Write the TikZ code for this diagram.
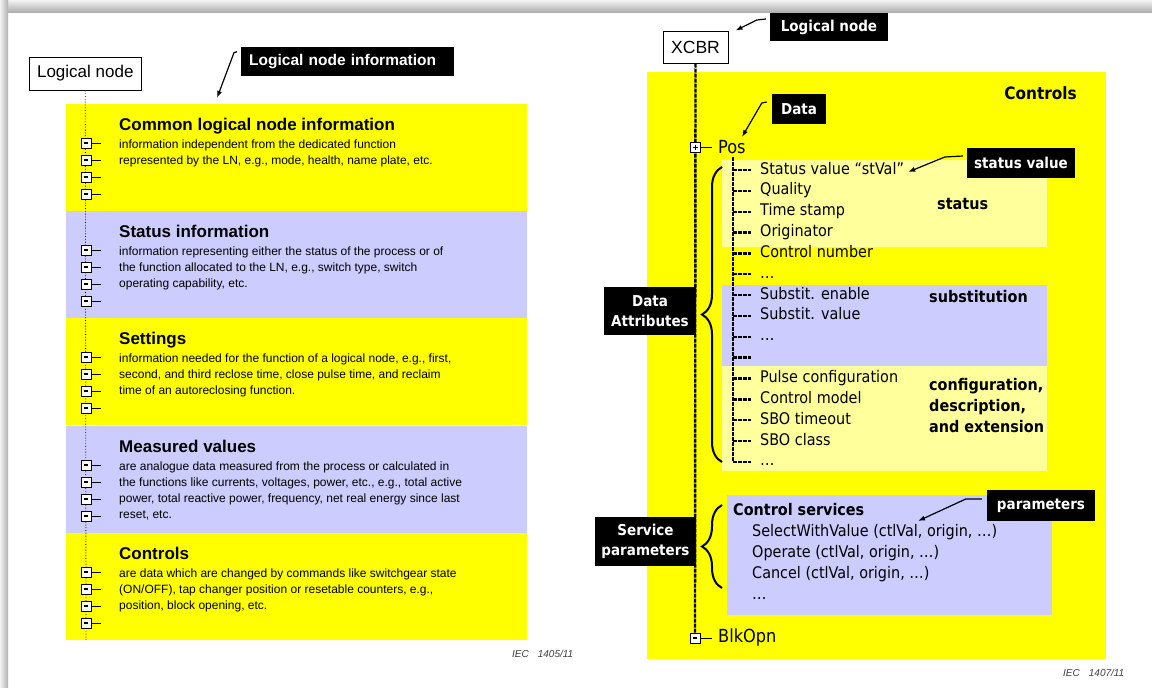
\documentclass[tikz,border=0pt]{standalone}
\usepackage{fontspec}
\setmainfont{Liberation Sans}
\newfontfamily\tahoma{DejaVu Sans Condensed}
\usetikzlibrary{positioning,calc,arrows.meta,decorations.pathreplacing}
\definecolor{ylw}{HTML}{FFFF00}
\definecolor{lav}{HTML}{CCCCFF}
\definecolor{paleylw}{HTML}{FFFF9C}
\definecolor{shadow}{HTML}{B0B0B0}

\begin{document}
\begin{tikzpicture}[x=1pt, y=-1pt,
  band/.style={anchor=north west, inner sep=0pt, minimum width=461pt, minimum height=107pt},
  head/.style={anchor=base west, inner sep=0pt, font=\fontsize{17}{20}\selectfont\bfseries},
  desc/.style={anchor=north west, inner sep=0pt, align=left, font=\fontsize{12}{16}\selectfont},
  lnbox/.style={draw, line width=1pt, fill=white, inner xsep=8pt, minimum height=33pt},
  tag/.style={fill=black, text=white, inner sep=0pt, align=center,
    font=\tahoma\bfseries\fontsize{15}{20}\selectfont},
  minusbox/.style={draw, fill=white, inner sep=0pt, minimum size=10pt, line width=0.7pt,
    path picture={\draw[line width=1.5pt] ($(path picture bounding box.center)+(-2.4,0)$)
      -- ($(path picture bounding box.center)+(2.4,0)$);}},
  plusbox/.style={minusbox, path picture={\draw[line width=1pt]
      ($(path picture bounding box.center)+(-2.5,0)$) -- ($(path picture bounding box.center)+(2.5,0)$)
      ($(path picture bounding box.center)+(0,-2.5)$) -- ($(path picture bounding box.center)+(0,2.5)$);}},
  tree/.style={line width=2.4pt, dash pattern=on 4pt off 1pt},
  item/.style={anchor=west, inner xsep=9pt, inner ysep=0pt, text height=11.5pt, text depth=3.5pt,
    font=\tahoma\fontsize{16}{20}\selectfont},
  kind/.style={anchor=base west, inner sep=0pt, align=left, font=\tahoma\bfseries\fontsize{16}{21}\selectfont},
  pointer/.style={line width=1.2pt, -{Latex[length=7pt, width=5pt]}},
  brc/.style={decorate, decoration={brace, amplitude=20pt, aspect=0.5}, line width=2pt},
  iec/.style={anchor=west, inner sep=0pt, text=black!75, font=\itshape\fontsize{10}{12}\selectfont}
  ]
  \useasboundingbox (0,0) rectangle (1152,688);
  \fill[white] (0,0) rectangle (1152,688);
  \shade[top color=gray!10, bottom color=shadow] (0,0) rectangle (1152,12);
  \shade[left color=gray!10, right color=shadow] (0,0) rectangle (8,688);

  % left: logical node information
  \foreach \n/\yy/\col in {1/104/ylw, 2/211/lav, 3/318/ylw, 4/426/lav, 5/533/ylw}
    \node[band, fill=\col] (band\n) at (66,\yy) {};
  \foreach \n/\hd/\txt in {
    1/Common logical node information/{information independent from the dedicated function\\represented by the LN, e.g., mode, health, name plate, etc.},
    2/Status information/{information representing either the status of the process or of\\the function allocated to the LN, e.g., switch type, switch\\operating capability, etc.},
    3/Settings/{information needed for the function of a logical node, e.g., first,\\second, and third reclose time, close pulse time, and reclaim\\time of an autoreclosing function.},
    4/Measured values/{are analogue data measured from the process or calculated in\\the functions like currents, voltages, power, etc., e.g., total active\\power, total reactive power, frequency, net real energy since last\\reset, etc.},
    5/Controls/{are data which are changed by commands like switchgear state\\(ON/OFF), tap changer position or resetable counters, e.g.,\\position, block opening, etc.}}
  {
    \node[head] (head\n) at ($(band\n.north west)+(53,26)$) {\hd};
    \node[desc] (desc\n) at ($(band\n.north west)+(53,35.5)$) {\txt};
  }
  \node[lnbox, font=\fontsize{17}{20}\selectfont] (ln) at (85.3,73.5) {Logical node};
  \coordinate (lnend) at (86,641);
  \draw[dotted, line width=0.8pt] (ln.south) -- (lnend);
  \foreach \n/\yy in {1/104, 2/211, 3/318, 4/426, 5/533}
    \foreach \k in {0,...,3} {
      \node[minusbox] (mb\n\k) at (86,\yy+39+17*\k) {};
      \draw[line width=0.8pt] (mb\n\k.east) -- ++(10,0) coordinate (mt\n\k);
    }
  \node[tag, anchor=north west, minimum height=29pt, text width=197pt, inner xsep=8pt, align=left,
    font=\bfseries\fontsize{15.5}{19}\selectfont] (infotag) at (241,47) {Logical node information};
  \coordinate (infotip) at (217,98);
  \draw[pointer] ($(infotag.west)+(-4,-10)$) -- ++(-3,1) -- (infotip);
  \node[iec] (iecl) at (512,654) {IEC\hspace{9pt}1405/11};

  % right: XCBR controls
  \node[fill=ylw, anchor=north west, inner sep=0pt, minimum width=459pt, minimum height=587pt] (ctlarea) at (647,72) {};
  \fill[paleylw] (722,160) rectangle (1047,247);
  \fill[lav] (722,285) rectangle (1047,366);
  \fill[paleylw] (722,366) rectangle (1047,471);
  \fill[lav] (727,495) rectangle (1052,615);
  \node[anchor=east, inner sep=0pt, font=\tahoma\bfseries\fontsize{17}{22}\selectfont] (ctltitle) at (1077,93) {Controls};

  \node[lnbox, font=\fontsize{17.6}{20}\selectfont, minimum width=65pt, minimum height=32pt, inner xsep=0pt] (xcbr) at (695.5,47) {XCBR};
  \node[minusbox] (blkbox) at (695,638) {};
  \draw[tree] (xcbr.south) -- (blkbox.north);
  \node[plusbox] (posbox) at (695,147) {};
  \node[anchor=west, inner xsep=6pt, font=\tahoma\fontsize{18}{22}\selectfont] (pos) at (712,147) {Pos};
  \draw[line width=0.8pt] (posbox.east) -- (pos.west);
  \node[anchor=west, inner xsep=6pt, font=\tahoma\fontsize{18}{22}\selectfont] (blk) at (712,638) {BlkOpn};
  \draw[line width=0.8pt] (blkbox.east) -- (blk.west);

  \foreach \k/\lbl in {0/Status value “stVal”, 1/Quality, 2/Time stamp, 3/Originator, 4/Control number,
    5/…, 6/Substit. enable, 7/Substit. value, 8/…, 9/{}, 10/Pulse configuration, 11/Control model,
    12/SBO timeout, 13/SBO class, 14/…}
  {
    \coordinate (stem\k) at (733,170+20.85*\k);
    \node[item] (item\k) at (751,170+20.85*\k) {\lbl};
    \draw[tree] (stem\k) -- (item\k.west);
  }
  \draw[tree] (stem0 |- pos.south) -- (stem14);

  \node[kind] (stlbl) at (937,209.5) {status};
  \node[kind] (sublbl) at (929,302.5) {substitution};
  \node[kind, anchor=north west] (cfglbl) at (929,378) {configuration,\\description,\\and extension};

  \node[kind] (svchead) at (733,515.5) {Control services};
  \node[kind, anchor=north west, font=\tahoma\fontsize{16}{21}\selectfont] (svclist) at (752,524)
    {SelectWithValue (ctlVal, origin, …)\\Operate (ctlVal, origin, …)\\Cancel (ctlVal, origin, …)\\…};

  \coordinate (dabot) at (722,462);
  \coordinate (datop) at (722,167);
  \draw[brc] (dabot) -- (datop);
  \coordinate (spbot) at (722,588);
  \coordinate (sptop) at (722,505);
  \draw[brc] (spbot) -- (sptop);

  \node[tag, minimum width=118pt, minimum height=28pt] (lntag) at (829,27) {Logical node};
  \node[tag, minimum width=54pt, minimum height=30pt] (datatag) at (799,109) {Data};
  \node[tag, minimum width=108pt, minimum height=30pt] (stvtag) at (1021,163) {status value};
  \node[tag, minimum width=92pt, minimum height=48pt] (datag) at (650,311) {Data\\Attributes};
  \node[tag, minimum width=101pt, minimum height=49pt] (sptag) at (645.5,541.5) {Service\\parameters};
  \node[tag, minimum width=108pt, minimum height=31pt] (partag) at (1041,505.5) {parameters};

  \draw[pointer] ($(lntag.west)+(-4,-8)$) -- ++(-9,1) -- ($(xcbr.north east)+(7,0)$);
  \coordinate (datatip) at (742,137);
  \draw[pointer] ($(datatag.west)+(-5,-7)$) -- ++(-5,1) -- (datatip);
  \draw[pointer] ($(stvtag.west)+(-4,-7)$) -- ++(-18,1) -- ($(item0.east)+(-5,2)$);
  \coordinate (partip) at (918,521);
  \draw[pointer] ($(partag.west)+(-5,-6.5)$) -- ++(-16,0) -- (partip);

  \node[iec] (iecr) at (1063,673) {IEC\hspace{9pt}1407/11};
\end{tikzpicture}
\end{document}
